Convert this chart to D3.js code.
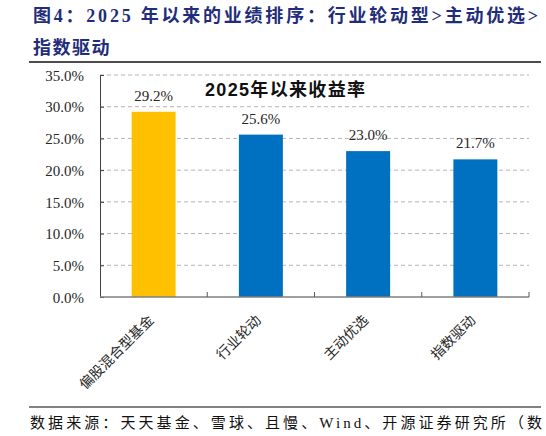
<!DOCTYPE html>
<html lang="zh">
<head>
    <meta charset="UTF-8">
    <title>图4：2025年以来的业绩排序</title>
    <script src="https://d3js.org/d3.v7.min.js"></script>
    <style>
        body { margin: 0; background: #fff; }
        svg { display: block; }
        .tick-label { font-family: "Liberation Serif", "Noto Sans CJK SC", serif; font-size: 15px; fill: #262626; }
        .cat-label { font-family: "Liberation Serif", "Noto Sans CJK SC", serif; font-size: 14px; fill: #262626; }
    </style>
</head>
<body>
<svg width="546" height="436"></svg>
<script>
    // data
    const categories = ["偏股混合型基金", "行业轮动", "主动优选", "指数驱动"];
    const returns = [29.2, 25.6, 23.0, 21.7];
    const yTicks = [0, 5, 10, 15, 20, 25, 30, 35];

    const titleLines = ["图4：2025 年以来的业绩排序：行业轮动型>主动优选>", "指数驱动"];
    const chartTitle = "2025年以来收益率";
    const sourceText = "数据来源：天天基金、雪球、且慢、Wind、开源证券研究所（数";

    const svg = d3.select("svg");
    const plot = { left: 100, right: 529, top: 75, bottom: 297 };

    // heading
    svg.append("text")
        .attr("x", 33).attr("y", 22)
        .attr("textLength", 505).attr("lengthAdjust", "spacing")
        .style("font-family", '"Liberation Serif", "Noto Sans CJK SC", serif')
        .style("font-weight", "bold").style("font-size", "18px")
        .style("fill", "#1f2d7a")
        .text(titleLines[0]);
    svg.append("text")
        .attr("x", 33).attr("y", 54)
        .style("font-family", '"Liberation Serif", "Noto Sans CJK SC", serif')
        .style("font-weight", "bold").style("font-size", "18px")
        .style("letter-spacing", "1.5px")
        .style("fill", "#1f2d7a")
        .text(titleLines[1]);

    svg.append("line")
        .attr("x1", 29).attr("x2", 541).attr("y1", 62).attr("y2", 62)
        .style("stroke", "#111").style("stroke-width", 1.5);

    const x = d3.scaleBand()
        .domain(categories)
        .range([plot.left, plot.right])
        .paddingInner(0.59).paddingOuter(0.295);

    const y = d3.scaleLinear()
        .domain([0, 35])
        .range([plot.bottom, plot.top]);

    const color = d3.scaleOrdinal()
        .domain(categories)
        .range(["#ffc000", "#0070c0", "#0070c0", "#0070c0"]);

    // dashed grid
    svg.append("g")
        .selectAll("line")
        .data(yTicks.filter(d => d > 0))
        .enter().append("line")
        .attr("x1", plot.left).attr("x2", plot.right)
        .attr("y1", d => y(d)).attr("y2", d => y(d))
        .style("stroke", "#b4b4b4")
        .style("stroke-dasharray", "4,3");

    // y axis
    const yAxis = svg.append("g")
        .attr("transform", `translate(${plot.left},0)`)
        .call(d3.axisLeft(y)
            .tickValues(yTicks)
            .tickSize(-4)
            .tickPadding(16)
            .tickFormat(d => d.toFixed(1) + "%"));
    yAxis.select(".domain").style("stroke", "#404040");
    yAxis.selectAll(".tick line").style("stroke", "#404040");
    yAxis.selectAll(".tick text").attr("class", "tick-label").attr("dy", "0.35em");

    // bars
    svg.append("g")
        .selectAll("rect")
        .data(categories)
        .enter().append("rect")
        .attr("x", d => x(d))
        .attr("width", x.bandwidth())
        .attr("y", (d, i) => y(returns[i]))
        .attr("height", (d, i) => y(0) - y(returns[i]))
        .style("fill", d => color(d));

    // value labels
    svg.append("g")
        .selectAll("text")
        .data(categories)
        .enter().append("text")
        .attr("class", "tick-label")
        .attr("x", d => x(d) + x.bandwidth() / 2)
        .attr("y", (d, i) => y(returns[i]) - 11)
        .attr("text-anchor", "middle")
        .text((d, i) => returns[i].toFixed(1) + "%");

    // x axis with separators between categories
    const step = x.step();
    const bounds = d3.range(categories.length + 1).map(i => plot.left + i * step);
    svg.append("line")
        .attr("x1", plot.left).attr("x2", plot.right)
        .attr("y1", plot.bottom).attr("y2", plot.bottom)
        .style("stroke", "#7f7f7f").style("stroke-width", 1.5);
    svg.append("g")
        .selectAll("line")
        .data(bounds.slice(1))
        .enter().append("line")
        .attr("x1", d => d).attr("x2", d => d)
        .attr("y1", plot.bottom).attr("y2", plot.bottom - 5)
        .style("stroke", "#595959");

    svg.append("g")
        .selectAll("text")
        .data(categories)
        .enter().append("text")
        .attr("class", "cat-label")
        .attr("text-anchor", "end")
        .attr("transform", d => `translate(${x(d) + x.bandwidth() / 2 + 1},${plot.bottom + 24}) rotate(-45)`)
        .text(d => d);

    // chart title inside plot
    svg.append("text")
        .attr("x", 205).attr("y", 96)
        .attr("textLength", 160).attr("lengthAdjust", "spacing")
        .style("font-family", '"Liberation Sans", "Noto Sans CJK SC", sans-serif')
        .style("font-weight", "bold").style("font-size", "18px")
        .style("fill", "#111")
        .text(chartTitle);

    // footer
    svg.append("line")
        .attr("x1", 29).attr("x2", 541).attr("y1", 407).attr("y2", 407)
        .style("stroke", "#595959").style("stroke-width", 1.5);
    svg.append("text")
        .attr("x", 30).attr("y", 428)
        .attr("textLength", 512).attr("lengthAdjust", "spacing")
        .style("font-family", '"Liberation Serif", "Noto Sans CJK SC", serif')
        .style("font-size", "15px")
        .style("fill", "#111")
        .text(sourceText);
</script>
</body>
</html>
